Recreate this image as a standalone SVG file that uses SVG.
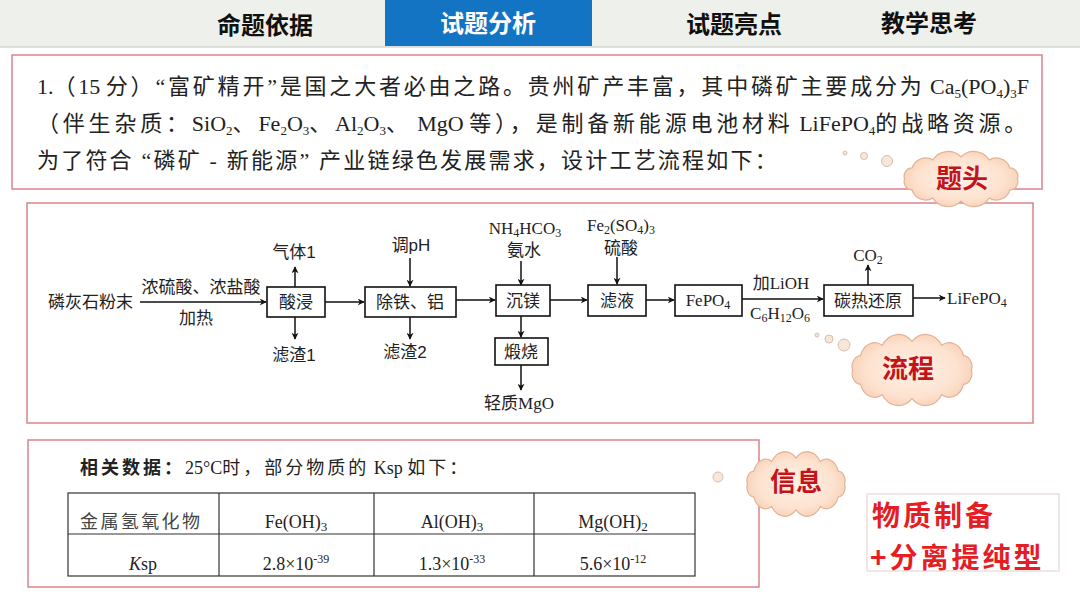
<svg xmlns="http://www.w3.org/2000/svg" xmlns:xlink="http://www.w3.org/1999/xlink" width="1080" height="607" viewBox="0 0 1080 607">
<style>
.serif{font-family:"Liberation Serif","Noto Sans CJK SC",serif;fill:#222}
.sans{font-family:"Liberation Sans","Noto Sans CJK SC",sans-serif;fill:#222}
.para{font-size:22px}
.lat{letter-spacing:0}
.fl{font-size:17px}
.tab{font-family:"Noto Sans CJK SC",sans-serif;font-size:24px;font-weight:bold;fill:#111;text-anchor:middle}
.frame{fill:#fff;stroke:#d9848b;stroke-width:1.5}
.box{fill:#fff;stroke:#111;stroke-width:1.6}
.ln{fill:none;stroke:#111;stroke-width:1.5;marker-end:url(#ah)}
.cl{fill:url(#cg);stroke:#e3b397;stroke-width:1.2}
.bub{fill:#f7e6da;stroke:#d8bfae;stroke-width:1}
.ct{font-family:"Noto Sans CJK SC",sans-serif;font-size:26px;font-weight:bold;fill:#c3141c;text-anchor:middle}
.mid{text-anchor:middle}
.tb{fill:none;stroke:#333;stroke-width:1.2}
.red{font-family:"Noto Sans CJK SC",sans-serif;font-size:28px;font-weight:bold;fill:#e51d24;letter-spacing:3px}
</style>
<defs>
<marker id="ah" viewBox="0 0 10 10" refX="9" refY="5" markerWidth="7" markerHeight="7" markerUnits="userSpaceOnUse" orient="auto">
<path d="M0,0 L10,5 L0,10 L3,5 Z" fill="#111"/>
</marker>
<radialGradient id="cg" cx="50%" cy="50%" r="55%">
<stop offset="0" stop-color="#fff1e7"/>
<stop offset="0.7" stop-color="#fde2cf"/>
<stop offset="1" stop-color="#f7cfb4"/>
</radialGradient>
<path id="cloud" vector-effect="non-scaling-stroke" d="M60,0 A9,9 0 0 1 52,12 A15,15 0 0 1 30,20.8 A19,19 0 0 1 0,24 A19,19 0 0 1 -30,20.8 A15,15 0 0 1 -52,12 A9,9 0 0 1 -60,0 A9,9 0 0 1 -52,-12 A15,15 0 0 1 -30,-20.8 A19,19 0 0 1 0,-24 A19,19 0 0 1 30,-20.8 A15,15 0 0 1 52,-12 A9,9 0 0 1 60,0 Z"/>
</defs>

<rect x="0" y="0" width="1080" height="607" fill="#fff"/>

<g id="header">
<rect x="0" y="0" width="1080" height="47" fill="#eef0ec"/>
<line x1="0" y1="47" x2="1080" y2="47" stroke="#d4d8d2" stroke-width="1.5"/>
<rect x="385" y="0" width="207" height="46" fill="#1474c4"/>
<text class="tab" x="265" y="34">命题依据</text>
<text class="tab" x="488" y="32" style="fill:#fff">试题分析</text>
<text class="tab" x="734" y="33">试题亮点</text>
<text class="tab" x="929" y="32">教学思考</text>
</g>

<g id="question">
<rect class="frame" x="12" y="55" width="1030" height="134"/>
<text class="serif para" x="37" y="94" letter-spacing="2.8"><tspan class="lat">1.</tspan>（<tspan class="lat">15 </tspan>分）“富矿精开”是国之大者必由之路。贵州矿产丰富，其中磷矿主要成分为<tspan class="lat"> Ca</tspan><tspan class="lat" dy="4" font-size="13">5</tspan><tspan class="lat" dy="-4">(PO</tspan><tspan class="lat" dy="4" font-size="13">4</tspan><tspan class="lat" dy="-4">)</tspan><tspan class="lat" dy="4" font-size="13">3</tspan><tspan class="lat" dy="-4">F</tspan></text>
<text class="serif para" x="37" y="131" letter-spacing="3.8">（伴生杂质：<tspan class="lat">SiO</tspan><tspan class="lat" dy="4" font-size="13">2</tspan><tspan dy="-4">、</tspan><tspan class="lat">Fe</tspan><tspan class="lat" dy="4" font-size="13">2</tspan><tspan class="lat" dy="-4">O</tspan><tspan class="lat" dy="4" font-size="13">3</tspan><tspan dy="-4">、</tspan><tspan class="lat">Al</tspan><tspan class="lat" dy="4" font-size="13">2</tspan><tspan class="lat" dy="-4">O</tspan><tspan class="lat" dy="4" font-size="13">3</tspan><tspan dy="-4">、</tspan><tspan class="lat"> MgO </tspan>等），是制备新能源电池材料<tspan class="lat"> LiFePO</tspan><tspan class="lat" dy="4" font-size="13">4</tspan><tspan dy="-4">的战略资源。</tspan></text>
<text class="serif para" x="37" y="168" letter-spacing="2.2">为了符合 “磷矿 - 新能源” 产业链绿色发展需求，设计工艺流程如下：</text>
</g>

<g id="flow-frame">
<rect class="frame" x="27" y="203" width="1006" height="220"/>
</g>

<g id="connectors">
<line class="ln" x1="140" y1="302" x2="266" y2="302"/>
<line class="ln" x1="295" y1="287" x2="295" y2="267"/>
<line class="ln" x1="295" y1="317" x2="295" y2="339"/>
<line class="ln" x1="325" y1="302" x2="364" y2="302"/>
<line class="ln" x1="410" y1="258" x2="410" y2="286"/>
<line class="ln" x1="410" y1="317" x2="410" y2="339"/>
<line class="ln" x1="456" y1="300" x2="495" y2="300"/>
<line class="ln" x1="521" y1="261" x2="521" y2="285"/>
<line class="ln" x1="521" y1="316" x2="521" y2="337"/>
<line class="ln" x1="521" y1="365" x2="521" y2="390"/>
<line class="ln" x1="550" y1="300" x2="587" y2="300"/>
<line class="ln" x1="617" y1="257" x2="617" y2="284"/>
<line class="ln" x1="646" y1="300" x2="674" y2="300"/>
<line class="ln" x1="742" y1="299" x2="823" y2="299"/>
<line class="ln" x1="868" y1="285" x2="868" y2="265"/>
<line class="ln" x1="913" y1="298" x2="945" y2="298"/>
</g>

<g id="n-start"><text class="sans fl" x="48" y="308" font-size="18">磷灰石粉末</text></g>
<g id="n-reagent1">
<text class="sans fl mid" x="201" y="293">浓硫酸、浓盐酸</text>
<text class="sans fl mid" x="196" y="324">加热</text>
</g>
<g id="n-suanjin">
<rect class="box" x="267" y="287" width="58" height="30"/>
<text class="sans fl mid" x="296" y="308">酸浸</text>
<text class="sans fl mid" x="294" y="258">气体1</text>
<text class="sans fl mid" x="294" y="361">滤渣1</text>
</g>
<g id="n-chutie">
<rect class="box" x="365" y="287" width="91" height="30"/>
<text class="sans fl mid" x="410" y="308">除铁、铝</text>
<text class="sans fl mid" x="411" y="251">调pH</text>
<text class="sans fl mid" x="405" y="358">滤渣2</text>
</g>
<g id="n-chenmei">
<rect class="box" x="496" y="285" width="54" height="31"/>
<text class="sans fl mid" x="523" y="307">沉镁</text>
<text class="serif fl mid" x="525" y="234">NH<tspan dy="3" font-size="12">4</tspan><tspan dy="-3">HCO</tspan><tspan dy="3" font-size="12">3</tspan></text>
<text class="sans fl mid" x="524" y="256">氨水</text>
</g>
<g id="n-duanshao">
<rect class="box" x="495" y="338" width="53" height="27"/>
<text class="sans fl mid" x="521" y="358">煅烧</text>
<text class="serif fl mid" x="519" y="409">轻质MgO</text>
</g>
<g id="n-lvye">
<rect class="box" x="588" y="285" width="58" height="31"/>
<text class="sans fl mid" x="617" y="307">滤液</text>
<text class="serif fl mid" x="621" y="231">Fe<tspan dy="3" font-size="12">2</tspan><tspan dy="-3">(SO</tspan><tspan dy="3" font-size="12">4</tspan><tspan dy="-3">)</tspan><tspan dy="3" font-size="12">3</tspan></text>
<text class="sans fl mid" x="621" y="254">硫酸</text>
</g>
<g id="n-fepo4">
<rect class="box" x="675" y="285" width="67" height="31"/>
<text class="serif fl mid" x="708" y="306">FePO<tspan dy="3" font-size="12">4</tspan></text>
</g>
<g id="n-reagent2">
<text class="serif fl mid" x="781" y="289">加LiOH</text>
<text class="serif fl mid" x="780" y="319">C<tspan dy="3" font-size="12">6</tspan><tspan dy="-3">H</tspan><tspan dy="3" font-size="12">12</tspan><tspan dy="-3">O</tspan><tspan dy="3" font-size="12">6</tspan></text>
</g>
<g id="n-tanre">
<rect class="box" x="824" y="285" width="89" height="31"/>
<text class="sans fl mid" x="868" y="307">碳热还原</text>
<text class="serif fl mid" x="868" y="261">CO<tspan dy="3" font-size="12">2</tspan></text>
</g>
<g id="n-product"><text class="serif fl" x="947" y="304">LiFePO<tspan dy="3" font-size="12">4</tspan></text></g>

<g id="data">
<rect class="frame" x="28" y="440" width="731" height="147"/>
<text class="serif" x="80" y="474" font-size="18" letter-spacing="3"><tspan font-weight="bold">相关数据：</tspan><tspan class="lat">25°C</tspan>时，部分物质的<tspan class="lat"> Ksp </tspan>如下：</text>
<rect class="tb" x="68" y="493" width="627" height="83"/>
<line class="tb" x1="68" y1="534" x2="695" y2="534"/>
<line class="tb" x1="219" y1="493" x2="219" y2="576"/>
<line class="tb" x1="374" y1="493" x2="374" y2="576"/>
<line class="tb" x1="534" y1="493" x2="534" y2="576"/>
<text class="serif" x="80" y="528" font-size="18" textLength="120" style="fill:#444">金属氢氧化物</text>
<text class="serif mid" x="296" y="528" font-size="18">Fe(OH)<tspan dy="3" font-size="13">3</tspan></text>
<text class="serif mid" x="452" y="528" font-size="18">Al(OH)<tspan dy="3" font-size="13">3</tspan></text>
<text class="serif mid" x="613" y="528" font-size="18">Mg(OH)<tspan dy="3" font-size="13">2</tspan></text>
<text class="serif mid" x="143" y="570" font-size="18"><tspan font-style="italic">K</tspan>sp</text>
<text class="serif mid" x="296" y="570" font-size="18">2.8×10<tspan dy="-7" font-size="12">-39</tspan></text>
<text class="serif mid" x="452" y="570" font-size="18">1.3×10<tspan dy="-7" font-size="12">-33</tspan></text>
<text class="serif mid" x="613" y="570" font-size="18">5.6×10<tspan dy="-7" font-size="12">-12</tspan></text>
</g>

<g id="cloud-titou">
<circle class="bub" cx="845" cy="153" r="2"/>
<circle class="bub" cx="864" cy="156" r="3.5"/>
<circle class="bub" cx="887" cy="161" r="5.5"/>
<use xlink:href="#cloud" class="cl" transform="translate(961,179) scale(0.94,0.92)"/>
<text class="ct" x="962" y="188">题头</text>
</g>
<g id="cloud-liucheng">
<circle class="bub" cx="817" cy="335" r="2"/>
<circle class="bub" cx="829" cy="339" r="4"/>
<circle class="bub" cx="844" cy="345" r="6"/>
<use xlink:href="#cloud" class="cl" transform="translate(912,370) scale(0.99,1.19)"/>
<text class="ct" x="908" y="378">流程</text>
</g>
<g id="cloud-xinxi">
<circle class="bub" cx="718" cy="477" r="5"/>
<use xlink:href="#cloud" class="cl" transform="translate(796,484) scale(0.81,1.08)"/>
<text class="ct" x="796" y="491">信息</text>
</g>

<g id="type-label">
<rect x="867" y="494" width="192" height="77" fill="#fff" stroke="#e6cdd0" stroke-width="1"/>
<text class="red" x="872" y="526">物质制备</text>
<text class="red" x="870" y="568">+分离提纯型</text>
</g>
</svg>
